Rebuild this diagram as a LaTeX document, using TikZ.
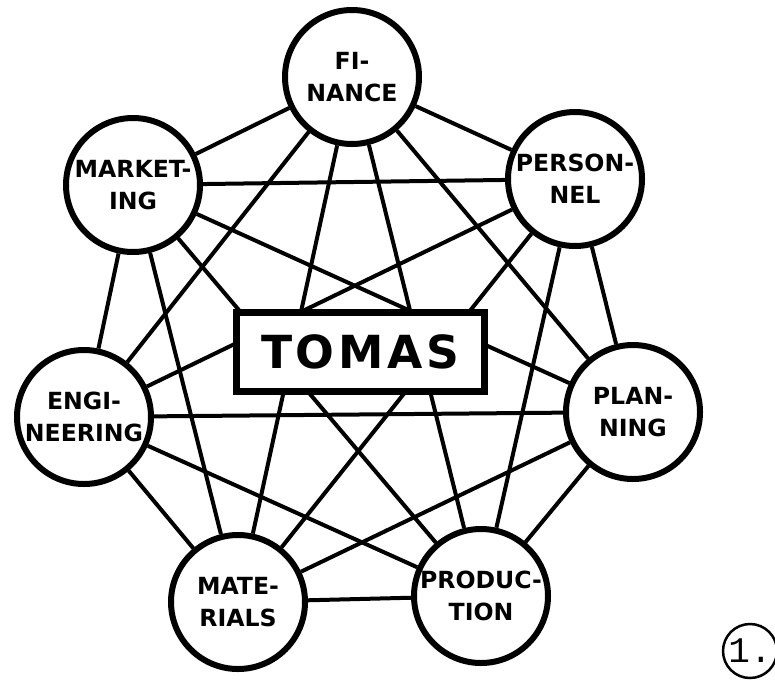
\documentclass[tikz,border=0pt]{standalone}
\usepackage{fontspec}
\newfontfamily\deptfont{DejaVu Sans}
\newfontfamily\corefont[LetterSpace=8]{DejaVu Sans}
\newfontfamily\figfont{Liberation Mono}
\usetikzlibrary{positioning}

\begin{document}
\begin{tikzpicture}[
  x=0.5pt,y=-0.5pt,
  dept/.style={draw,circle,line width=3pt,fill=white,minimum size=67pt,inner sep=0pt,align=center,
               font=\deptfont\bfseries\fontsize{11.8}{16}\selectfont},
  core/.style={draw,line width=3.5pt,fill=white,minimum width=124pt,minimum height=39.5pt,inner sep=0pt,
               font=\corefont\bfseries\fontsize{22.8}{26}\selectfont},
  link/.style={line width=2pt},
  fignum/.style={draw,circle,line width=1.25pt,minimum size=27pt,inner sep=0pt,
                 font=\figfont\fontsize{18}{20}\selectfont}
]
\useasboundingbox (0,0) rectangle (775,680);
% Seven departments on a rough heptagon
\node[dept] (fin) at (352,77)  {FI-\\NANCE};
\node[dept] (mkt) at (133,185) {MARKET-\\ING};
\node[dept] (per) at (575,179) {PERSON-\\NEL};
\node[dept] (eng) at (84,417)  {ENGI-\\NEERING};
\node[dept] (pla) at (633,412) {PLAN-\\NING};
\node[dept] (mat) at (238,602) {MATE-\\RIALS};
\node[dept] (pro) at (481,596) {PRODUC-\\TION};
% Every department linked to every other one
\draw[link] (fin) -- (mkt);
\draw[link] (fin) -- (per);
\draw[link] (fin) -- (eng);
\draw[link] (fin) -- (pla);
\draw[link] (fin) -- (mat);
\draw[link] (fin) -- (pro);
\draw[link] (mkt) -- (per);
\draw[link] (mkt) -- (eng);
\draw[link] (mkt) -- (pla);
\draw[link] (mkt) -- (mat);
\draw[link] (mkt) -- (pro);
\draw[link] (per) -- (eng);
\draw[link] (per) -- (pla);
\draw[link] (per) -- (mat);
\draw[link] (per) -- (pro);
\draw[link] (eng) -- (pla);
\draw[link] (eng) -- (mat);
\draw[link] (eng) -- (pro);
\draw[link] (pla) -- (mat);
\draw[link] (pla) -- (pro);
\draw[link] (mat) -- (pro);
% Centre box sits on top of the links
\node[core] (tomas) at (360,352) {TOMAS};
\node[fignum] (fig) at (750,651) {1.};
\end{tikzpicture}
\end{document}
